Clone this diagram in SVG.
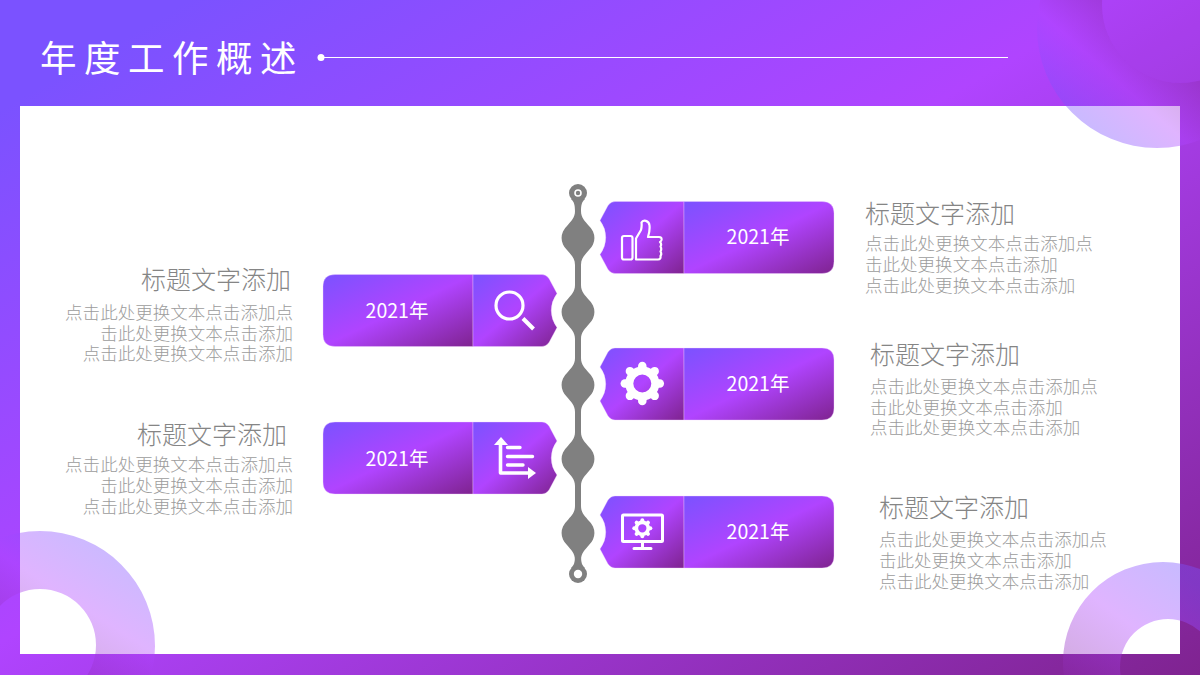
<svg xmlns="http://www.w3.org/2000/svg" xmlns:xlink="http://www.w3.org/1999/xlink" width="1200" height="675" viewBox="0 0 1200 675">
<style>
text{font-family:"Noto Sans CJK SC","Liberation Sans",sans-serif}
.yr{font-size:19.5px;fill:#fff;text-anchor:middle}
.h{font-size:25px;fill:#858585;font-weight:300}
.b{font-size:17.55px;fill:#9c9c9c;font-weight:300}
.e{text-anchor:end}
.sec{fill:url(#card);stroke:#f0d2ff;stroke-width:.6;stroke-opacity:.6}
.ln{fill:none;stroke:#fff;stroke-width:2.2;stroke-linejoin:round;stroke-linecap:round}
.fill{fill:#fff}
</style>
<defs>
<linearGradient id="bg" gradientUnits="userSpaceOnUse" x1="0" y1="0" x2="592" y2="1026"><stop offset=".08" stop-color="#7b52ff"/><stop offset=".47" stop-color="#b044ff"/><stop offset="1" stop-color="#7f2390"/></linearGradient>
<linearGradient id="card" x1="0" y1="0" x2="1" y2="1"><stop offset="0" stop-color="#7b52ff"/><stop offset=".5" stop-color="#b044ff"/><stop offset="1" stop-color="#7f2390"/></linearGradient>
<linearGradient id="r1" gradientUnits="userSpaceOnUse" x1="1085" y1="125" x2="1165" y2="35"><stop offset="0" stop-color="#7b52ff"/><stop offset=".45" stop-color="#b044ff"/><stop offset="1" stop-color="#7f2390"/></linearGradient>
<linearGradient id="r2" gradientUnits="userSpaceOnUse" x1="125" y1="555" x2="35" y2="695"><stop offset="0" stop-color="#7b52ff"/><stop offset=".4" stop-color="#b044ff"/><stop offset="1" stop-color="#7f2390"/></linearGradient>
<linearGradient id="r3" gradientUnits="userSpaceOnUse" x1="1170" y1="565" x2="1065" y2="710"><stop offset="0" stop-color="#7b52ff"/><stop offset=".4" stop-color="#b044ff"/><stop offset="1" stop-color="#7f2390"/></linearGradient>
<path id="bead" fill="#808080" d="M-3,-27C-3,-20 -7,-17 -11,-12A16,16 0 0 0 -11,12C-7,17 -3,20 -3,27H3C3,20 7,17 11,12A16,16 0 0 0 11,-12C7,-17 3,-20 3,-27Z"/>
<g id="gear">
<circle r="13" fill="none" stroke="#fff" stroke-width="8"/>
<g stroke="#fff" stroke-width="8.5" stroke-linecap="round">
<line y1="-15" y2="-17.5"/><line y1="-15" y2="-17.5" transform="rotate(45)"/><line y1="-15" y2="-17.5" transform="rotate(90)"/><line y1="-15" y2="-17.5" transform="rotate(135)"/><line y1="-15" y2="-17.5" transform="rotate(180)"/><line y1="-15" y2="-17.5" transform="rotate(225)"/><line y1="-15" y2="-17.5" transform="rotate(270)"/><line y1="-15" y2="-17.5" transform="rotate(315)"/>
</g>
</g>
<path id="iconR" class="sec" d="M15,0H84V72H15Q11,72 8,68L0,53A28,28 0 0 0 0,19L8,4Q11,0 15,0Z"/>
<path id="bodyR" class="sec" d="M84,0H222Q234,0 234,12V60Q234,72 222,72H84Z"/>
<path id="bodyL" class="sec" d="M12,0H150V72H12Q0,72 0,60V12Q0,0 12,0Z"/>
<path id="iconL" class="sec" d="M150,0H219Q223,0 226,4L234,19A28,28 0 0 0 234,53L226,68Q223,72 219,72H150Z"/>
</defs>

<g id="background">
<rect width="1200" height="675" fill="url(#bg)"/>
<rect x="20" y="106" width="1160" height="548" fill="#fff"/>
<path fill="url(#r1)" fill-opacity=".4" fill-rule="evenodd" d="M1037,28a120,120 0 1 0 240,0a120,120 0 1 0 -240,0ZM1102,5a78,78 0 1 0 156,0a78,78 0 1 0 -156,0Z"/>
<circle cx="1180" cy="5" r="78" fill="#7f2390" fill-opacity=".08"/>
<path fill="url(#r2)" fill-opacity=".4" fill-rule="evenodd" d="M-75,646a115,115 0 1 0 230,0a115,115 0 1 0 -230,0ZM-16,645a56,56 0 1 0 112,0a56,56 0 1 0 -112,0Z"/>
<path fill="url(#r3)" fill-opacity=".4" fill-rule="evenodd" d="M1063,662a100,100 0 1 0 200,0a100,100 0 1 0 -200,0ZM1120,667a48,48 0 1 0 96,0a48,48 0 1 0 -96,0Z"/>
</g>

<g id="title">
<text x="40" y="72" font-size="36.500" fill="#fff" letter-spacing="7.500">年度工作概述</text>
<circle cx="321" cy="57.500" r="3.500" fill="#fff"/>
<line x1="321" y1="57.500" x2="1008" y2="57.500" stroke="#fff" stroke-width="1"/>
</g>

<g id="connectors">
<path fill="#808080" d="M575,205H581V560H575Z"/>
<use xlink:href="#bead" href="#bead" x="578" y="238"/>
<use xlink:href="#bead" href="#bead" x="578" y="312"/>
<use xlink:href="#bead" href="#bead" x="578" y="385"/>
<use xlink:href="#bead" href="#bead" x="578" y="459"/>
<use xlink:href="#bead" href="#bead" x="578" y="533"/>
</g>
<g id="terminal-top">
<circle cx="578" cy="193" r="9" fill="#808080"/>
<path fill="#808080" d="M571,199C574,202 575,204 575,212H581C581,204 582,202 585,199Z"/>
<circle cx="578" cy="193" r="3" fill="#808080" stroke="#fff" stroke-width="1.600"/>
</g>
<g id="terminal-bottom">
<circle cx="578" cy="574" r="9" fill="#808080"/>
<path fill="#808080" d="M571,568C574,565 575,563 575,555H581C581,563 582,565 585,568Z"/>
<circle cx="578" cy="574" r="4.200" fill="#fff"/>
</g>

<g id="node-1">
<use xlink:href="#iconR" href="#iconR" x="600" y="201.500"/><use xlink:href="#bodyR" href="#bodyR" x="600" y="201.500"/>
<rect class="ln" x="622" y="236" width="10.500" height="23.500" rx="2"/>
<path class="ln" d="M636,259.500V238.500L641,230Q642,226 641.500,222.500C643,219.500 649,220 649.500,225.500Q650,231 648,237H659Q662,237 661.500,240Q661,241.500 660,242Q662,244 660.500,246.500Q662,249 660.500,251.500Q662,254 660.500,256Q661,259.500 658,259.500Z"/>
<text class="yr" x="758" y="244">2021年</text>
<text class="h" x="865" y="223">标题文字添加</text>
<text class="b" x="865" y="250">点击此处更换文本点击添加点</text>
<text class="b" x="865" y="271">击此处更换文本点击添加</text>
<text class="b" x="865" y="292">点击此处更换文本点击添加</text>
</g>

<g id="node-2">
<use xlink:href="#bodyL" href="#bodyL" x="323" y="274.500"/><use xlink:href="#iconL" href="#iconL" x="323" y="274.500"/>
<circle cx="509.500" cy="305.500" r="13.500" fill="none" stroke="#fff" stroke-width="3.200"/>
<line x1="523" y1="318.500" x2="533.500" y2="329" stroke="#fff" stroke-width="4"/>
<text class="yr" x="397" y="317.500">2021年</text>
<text class="h e" x="291" y="289">标题文字添加</text>
<text class="b e" x="293" y="319">点击此处更换文本点击添加点</text>
<text class="b e" x="293" y="339.500">击此处更换文本点击添加</text>
<text class="b e" x="293" y="360">点击此处更换文本点击添加</text>
</g>

<g id="node-3">
<use xlink:href="#iconR" href="#iconR" x="600" y="348"/><use xlink:href="#bodyR" href="#bodyR" x="600" y="348"/>
<use xlink:href="#gear" href="#gear" x="642.300" y="383.500"/>
<text class="yr" x="758" y="390.500">2021年</text>
<text class="h" x="870" y="363.500">标题文字添加</text>
<text class="b" x="870" y="393">点击此处更换文本点击添加点</text>
<text class="b" x="870" y="414">击此处更换文本点击添加</text>
<text class="b" x="870" y="434">点击此处更换文本点击添加</text>
</g>

<g id="node-4">
<use xlink:href="#bodyL" href="#bodyL" x="323" y="422"/><use xlink:href="#iconL" href="#iconL" x="323" y="422"/>
<path class="ln" style="stroke-width:3.600" d="M500.500,441V473H530"/>
<path class="fill" d="M501,437L508,445H494Z"/>
<path class="fill" d="M536,473L528,467V479Z"/>
<path class="ln" style="stroke-width:3.400" d="M507.500,447.500H520M507.500,456.500H532.500M507.500,465H523"/>
<text class="yr" x="397" y="465.500">2021年</text>
<text class="h e" x="287" y="443.500">标题文字添加</text>
<text class="b e" x="293" y="471">点击此处更换文本点击添加点</text>
<text class="b e" x="293" y="492">击此处更换文本点击添加</text>
<text class="b e" x="293" y="513">点击此处更换文本点击添加</text>
</g>

<g id="node-5">
<use xlink:href="#iconR" href="#iconR" x="600" y="496"/><use xlink:href="#bodyR" href="#bodyR" x="600" y="496"/>
<rect class="ln" style="stroke-width:3" x="622.500" y="515" width="40" height="26.500" rx="1"/>
<path class="ln" style="stroke-width:3" d="M642.500,541.500V548M634,548.500H651"/>
<use xlink:href="#gear" href="#gear" transform="translate(642.300 528.300) scale(.46)"/>
<text class="yr" x="758" y="538.500">2021年</text>
<text class="h" x="879" y="517">标题文字添加</text>
<text class="b" x="879" y="546">点击此处更换文本点击添加点</text>
<text class="b" x="879" y="567">击此处更换文本点击添加</text>
<text class="b" x="879" y="588">点击此处更换文本点击添加</text>
</g>
</svg>
